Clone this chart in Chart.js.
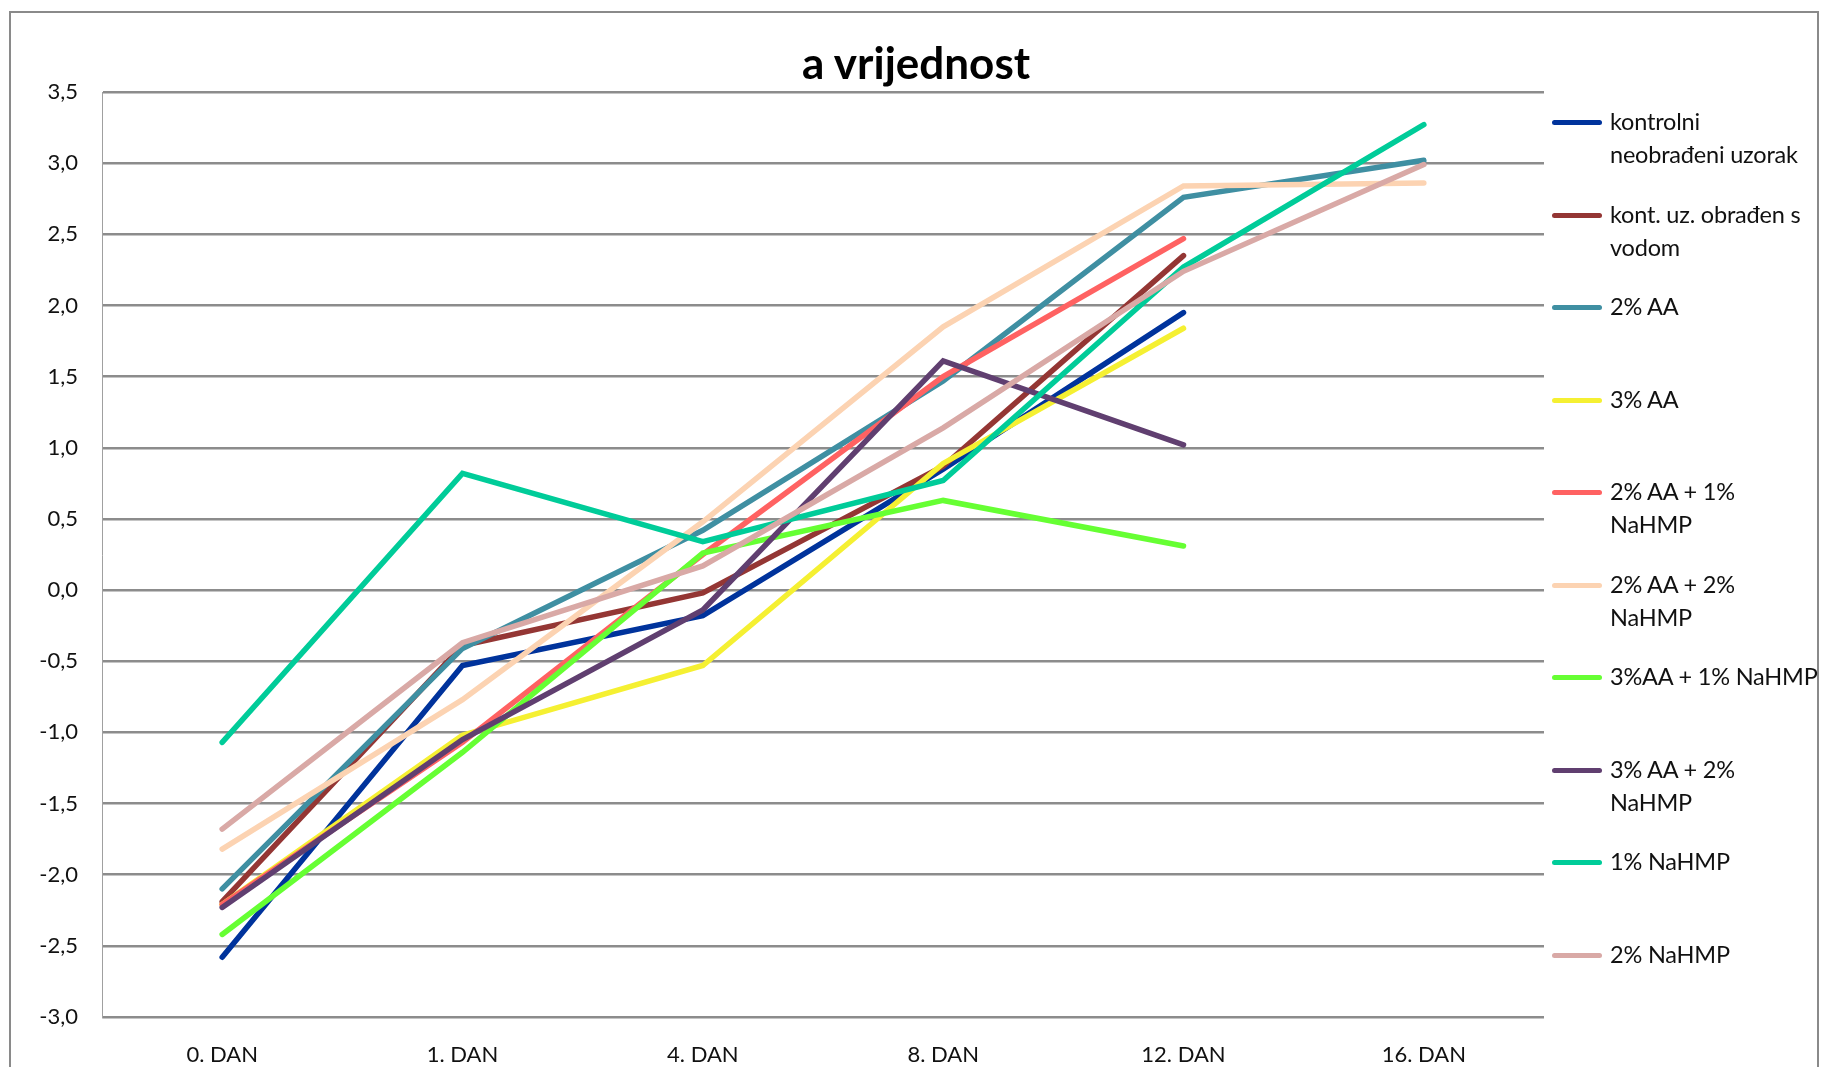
<!DOCTYPE html>
<html lang="hr">
<head>
<meta charset="UTF-8">
<title>a vrijednost</title>
<script src="https://cdn.jsdelivr.net/npm/chart.js"></script>
<style>
    body { margin: 0; background: #fff; font-family: Lato, "Open Sans", sans-serif; }
    #wrap { position: relative; width: 1823px; height: 1067px; overflow: hidden; }
    #frame { position: absolute; left: 9px; top: 11px; width: 1810px; height: 1100px; border: 2px solid #8a8a8a; box-sizing: border-box; }
    canvas { position: absolute; left: 0; top: 0; }
    #title { position: absolute; left: 0; top: 36px; width: 1832px; text-align: center; font-size: 44px; font-weight: bold; line-height: 52px; color: #000; }
    #legend { position: absolute; left: 0; top: 0; }
    .item { position: absolute; left: 1552px; }
    .swatch { position: absolute; left: 0; width: 50px; height: 5px; border-radius: 3px; }
    .txt { position: absolute; left: 58px; top: 0; font-size: 23.5px; letter-spacing: -0.2px; line-height: 33px; color: #111; white-space: pre; }
</style>
</head>
<body>
<div id="wrap">
    <div id="frame"></div>
    <canvas id="chart" width="1823" height="1067"></canvas>
    <div id="title">a vrijednost</div>
    <div id="legend"></div>
</div>
<script>
    const days = ['0. DAN', '1. DAN', '4. DAN', '8. DAN', '12. DAN', '16. DAN'];
    const yTicks = [3.5, 3.0, 2.5, 2.0, 1.5, 1.0, 0.5, 0.0, -0.5, -1.0, -1.5, -2.0, -2.5, -3.0];

    const kontrolni = [-2.58, -0.53, -0.18, 0.85, 1.95, null];
    const kontVoda = [-2.19, -0.39, -0.02, 0.87, 2.35, null];
    const aa2 = [-2.10, -0.41, 0.42, 1.47, 2.76, 3.02];
    const aa3 = [-2.21, -1.02, -0.53, 0.89, 1.84, null];
    const aa2na1 = [-2.21, -1.07, 0.25, 1.50, 2.47, null];
    const aa2na2 = [-1.82, -0.77, 0.48, 1.85, 2.84, 2.86];
    const aa3na1 = [-2.42, -1.14, 0.26, 0.63, 0.31, null];
    const aa3na2 = [-2.23, -1.05, -0.14, 1.61, 1.02, null];
    const na1 = [-1.07, 0.82, 0.34, 0.77, 2.27, 3.27];
    const na2 = [-1.68, -0.37, 0.17, 1.14, 2.24, 2.99];

    const series = [
        { label: 'kontrolni\nneobrađeni uzorak', data: kontrolni, color: '#00339c' },
        { label: 'kont. uz. obrađen s\nvodom', data: kontVoda, color: '#943634' },
        { label: '2% AA', data: aa2, color: '#3f8fa2' },
        { label: '3% AA', data: aa3, color: '#f5f032' },
        { label: '2% AA + 1%\nNaHMP', data: aa2na1, color: '#ff6262' },
        { label: '2% AA + 2%\nNaHMP', data: aa2na2, color: '#fcd3b2' },
        { label: '3%AA + 1% NaHMP', data: aa3na1, color: '#66ff33' },
        { label: '3% AA + 2%\nNaHMP', data: aa3na2, color: '#603f70' },
        { label: '1% NaHMP', data: na1, color: '#00cc99' },
        { label: '2% NaHMP', data: na2, color: '#d9a9a6' }
    ];

    const datasets = series.map((s, i) => ({
        label: s.label,
        data: s.data,
        borderColor: s.color,
        backgroundColor: s.color,
        borderWidth: 5.5,
        borderCapStyle: 'round',
        pointRadius: 0,
        tension: 0,
        spanGaps: false,
        order: series.length - i
    }));

    new Chart(document.getElementById('chart').getContext('2d'), {
        type: 'line',
        data: { labels: days, datasets: datasets },
        options: {
            responsive: false,
            animation: false,
            layout: { padding: { left: 12, right: 279, top: 92, bottom: 0 } },
            plugins: {
                legend: { display: false },
                tooltip: { enabled: false },
                title: { display: false }
            },
            scales: {
                x: {
                    offset: true,
                    grid: { display: false },
                    border: { display: false },
                    ticks: { color: '#111', font: { family: 'Lato', size: 22 }, padding: 17 },
                    afterFit: s => { s.height = 50; }
                },
                y: {
                    min: -3.0,
                    max: 3.5,
                    afterBuildTicks: s => { s.ticks = yTicks.map(v => ({ value: v })); },
                    grid: { color: '#8c8c8c', lineWidth: 2.5, drawTicks: false },
                    border: { color: '#a0a0a0', width: 1 },
                    ticks: {
                        color: '#111',
                        font: { family: 'Lato', size: 22 },
                        padding: 24,
                        callback: v => v.toFixed(1).replace('.', ',')
                    },
                    afterFit: s => { s.width = 90; }
                }
            }
        }
    });

    // legend on the right, one slot per series
    const legend = document.getElementById('legend');
    series.forEach((s, i) => {
        const item = document.createElement('div');
        item.className = 'item';
        item.style.top = (122 + i * 92.5) + 'px';
        const sw = document.createElement('div');
        sw.className = 'swatch';
        sw.style.background = s.color;
        sw.style.top = '-2px';
        const tx = document.createElement('div');
        tx.className = 'txt';
        tx.style.top = '-17px';
        tx.textContent = s.label;
        item.appendChild(sw);
        item.appendChild(tx);
        legend.appendChild(item);
    });
</script>
</body>
</html>
